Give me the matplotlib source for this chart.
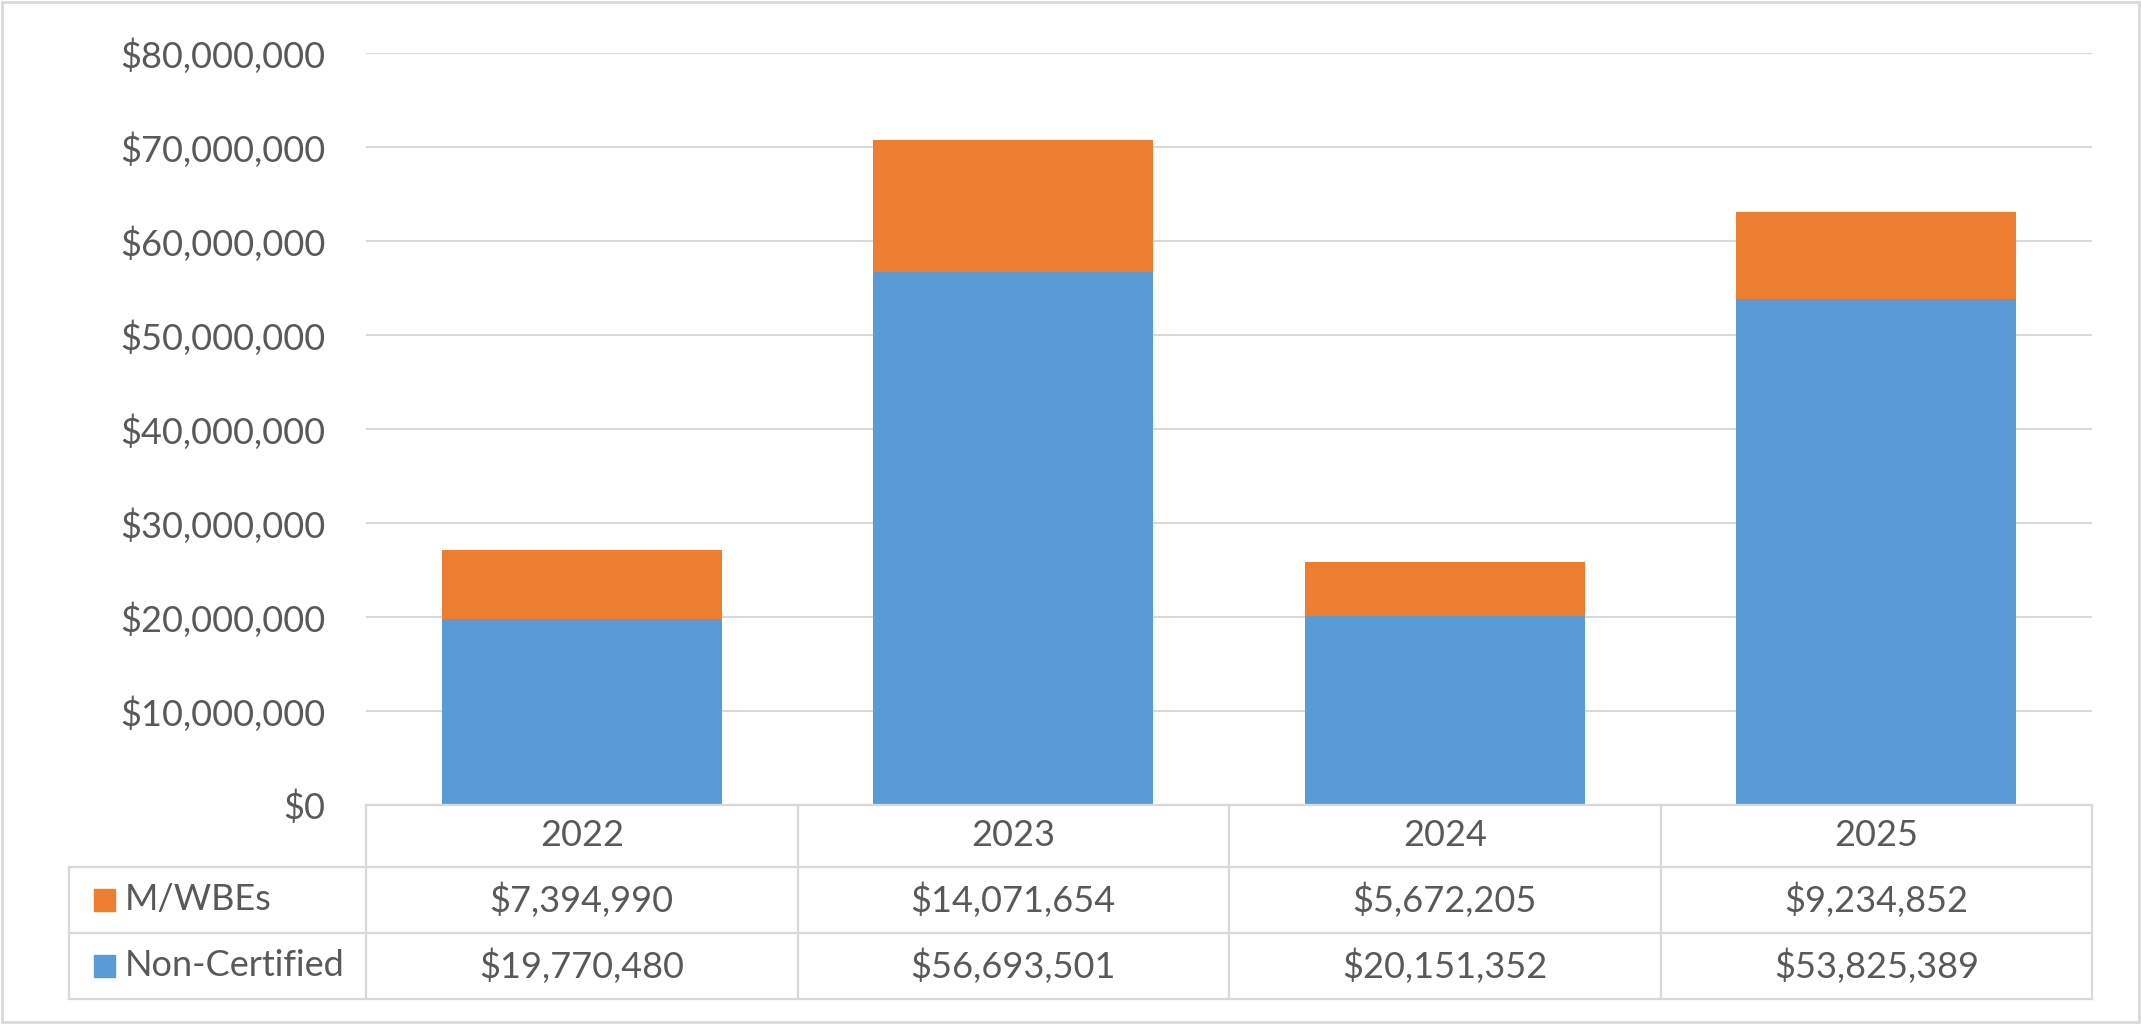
import matplotlib.pyplot as plt
from matplotlib.patches import Rectangle

# ---- data ----
years = ["2022", "2023", "2024", "2025"]
mwbe = [7394990, 14071654, 5672205, 9234852]
non_certified = [19770480, 56693501, 20151352, 53825389]
series_names = ["M/WBEs", "Non-Certified"]
y_ticks = [0, 10000000, 20000000, 30000000, 40000000, 50000000, 60000000, 70000000, 80000000]

ORANGE = "#ED7D31"
BLUE = "#5B9BD5"
GRID = "#D9D9D9"
TEXT = "#595959"
FS = 26

plt.rcParams["font.family"] = ["Lato", "DejaVu Sans"]

W, H = 2141, 1024
fig = plt.figure(figsize=(W / 100, H / 100), dpi=100)

# layout in pixels
plot_l, plot_r, plot_t, plot_b = 366, 2092, 53, 805
leg_l = 69
row_edges = [0, 62, 128, 194]  # table rows, pixels below plot bottom

def fx(px):
    return px / W

def fy(py):
    return 1 - py / H

# ---- bar axes ----
ax = fig.add_axes([fx(plot_l), fy(plot_b), fx(plot_r - plot_l), (plot_b - plot_t) / H])
x = list(range(len(years)))
ax.bar(x, non_certified, width=0.65, color=BLUE, zorder=3)
ax.bar(x, mwbe, width=0.65, bottom=non_certified, color=ORANGE, zorder=3)
ax.set_xlim(-0.5, len(years) - 0.5)
ax.set_ylim(0, 80000000)
ax.set_yticks(y_ticks)
ax.set_yticklabels([f"${v:,.0f}" for v in y_ticks])
ax.set_xticks([])
ax.tick_params(axis="y", length=0, pad=29, labelsize=FS, labelcolor=TEXT)
ax.yaxis.grid(True, color=GRID, lw=1.5, zorder=0)
for s in ax.spines.values():
    s.set_visible(False)

# ---- data table axes ----
unit = (plot_r - plot_l) / len(years)
tab_left = -0.5 - (plot_l - leg_l) / unit
tx = fig.add_axes([fx(leg_l), fy(plot_b + row_edges[-1]), fx(plot_r - leg_l), row_edges[-1] / H])
tx.set_xlim(tab_left, len(years) - 0.5)
tx.set_ylim(row_edges[-1], 0)
tx.axis("off")

lw = 1.6
right = len(years) - 0.5
tx.plot([-0.5, right], [row_edges[0]] * 2, color=GRID, lw=lw, clip_on=False)
for r in row_edges[1:]:
    tx.plot([tab_left, right], [r, r], color=GRID, lw=lw, clip_on=False)
tx.plot([tab_left, tab_left], [row_edges[1], row_edges[-1]], color=GRID, lw=lw, clip_on=False)
for i in range(len(years) + 1):
    xb = i - 0.5
    tx.plot([xb, xb], [row_edges[0], row_edges[-1]], color=GRID, lw=lw, clip_on=False)

# header
for i, yr in enumerate(years):
    tx.text(i, (row_edges[0] + row_edges[1]) / 2, yr, ha="center", va="center",
            fontsize=FS, color=TEXT)

# rows with legend keys
for k, (name, vals, col) in enumerate(zip(series_names, [mwbe, non_certified], [ORANGE, BLUE])):
    yc = (row_edges[k + 1] + row_edges[k + 2]) / 2
    tx.add_patch(Rectangle((tab_left + 25 / unit, yc - 11), 21 / unit, 22, color=col, clip_on=False))
    tx.text(tab_left + 56 / unit, yc, name, ha="left", va="center", fontsize=FS, color=TEXT)
    for i, v in enumerate(vals):
        tx.text(i, yc, f"${v:,.0f}", ha="center", va="center", fontsize=FS, color=TEXT)

# outer border
fig.patches.append(Rectangle((fx(2), fy(H - 2)), fx(W - 4), (H - 4) / H, transform=fig.transFigure,
                             fill=False, edgecolor=GRID, lw=2))

fig.savefig("out.png", dpi=100)
